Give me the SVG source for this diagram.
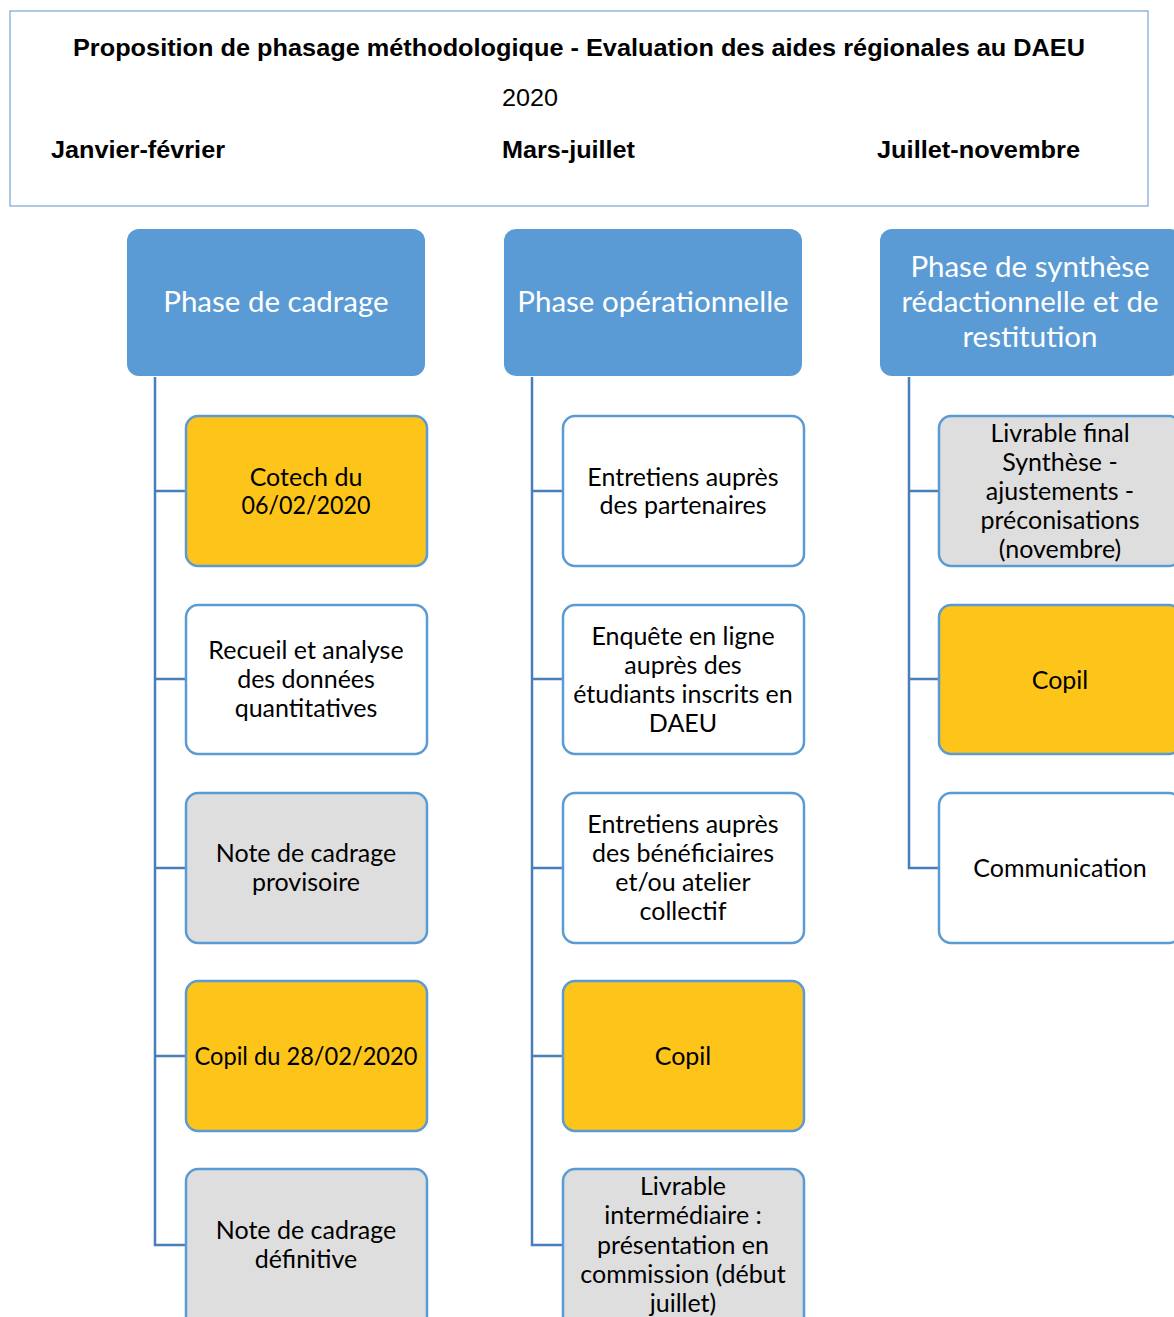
<svg xmlns="http://www.w3.org/2000/svg" width="1174" height="1317" viewBox="0 0 1174 1317">
<style>
.hdr{font-family:"Liberation Sans",Arial,sans-serif;fill:#000}
.b{font-weight:bold;font-size:24px}
.ph{fill:#5b9bd5}
.pht{font-family:Lato,"Open Sans",sans-serif;font-size:29.5px;fill:#fff;text-anchor:middle}
.n{stroke:#5b9bd5;stroke-width:2.5}
.y{fill:#fdc51a}
.g{fill:#dedede}
.w{fill:#fff}
.t{font-family:Lato,"Open Sans",sans-serif;font-size:25px;fill:#000;text-anchor:middle}
.c{fill:none;stroke:#4a7ebb;stroke-width:2.5}
</style>
<rect width="1174" height="1317" fill="#fff"/>
<g id="header">
<rect x="10" y="11" width="1138" height="195" fill="#fff" stroke="#7aa3d3" stroke-width="1.2"/>
<text class="hdr b" x="73" y="56" textLength="1012" lengthAdjust="spacingAndGlyphs">Proposition de phasage méthodologique - Evaluation des aides régionales au DAEU</text>
<text class="hdr" x="502" y="106" font-size="24" textLength="56" lengthAdjust="spacingAndGlyphs">2020</text>
<text class="hdr b" x="51" y="158" textLength="174" lengthAdjust="spacingAndGlyphs">Janvier-février</text>
<text class="hdr b" x="502" y="158" textLength="133" lengthAdjust="spacingAndGlyphs">Mars-juillet</text>
<text class="hdr b" x="877" y="158" textLength="203" lengthAdjust="spacingAndGlyphs">Juillet-novembre</text>
</g>
<g id="connectors">
<path class="c" d="M155,377V1245H186M155,491H186M155,679H186M155,868H186M155,1056H186"/>
<path class="c" d="M532,377V1245H563M532,491H563M532,679H563M532,868H563M532,1056H563"/>
<path class="c" d="M909,377V868H940M909,491H940M909,679H940"/>
</g>
<g id="phase1">
<rect class="ph" x="127" y="229" width="298" height="147" rx="12"/>
<text class="pht" x="276" y="312">Phase de cadrage</text>
</g>
<g id="phase2">
<rect class="ph" x="504" y="229" width="298" height="147" rx="12"/>
<text class="pht" x="653" y="312">Phase opérationnelle</text>
</g>
<g id="phase3">
<rect class="ph" x="880" y="229" width="302" height="147" rx="12"/>
<text class="pht" x="1030" y="277">Phase de synthèse</text>
<text class="pht" x="1030" y="312">rédactionnelle et de</text>
<text class="pht" x="1030" y="347">restitution</text>
</g>
<g id="c1n1"><rect class="n y" x="186" y="416" width="241" height="150" rx="12"/>
<text class="t" x="306" y="486">Cotech du</text><text class="t" x="306" y="514" textLength="129" lengthAdjust="spacingAndGlyphs">06/02/2020</text></g>
<g id="c1n2"><rect class="n w" x="186" y="605" width="241" height="149" rx="12"/>
<text class="t" x="306" y="659">Recueil et analyse</text><text class="t" x="306" y="688">des données</text><text class="t" x="306" y="717">quantitatives</text></g>
<g id="c1n3"><rect class="n g" x="186" y="793" width="241" height="150" rx="12"/>
<text class="t" x="306" y="862">Note de cadrage</text><text class="t" x="306" y="891">provisoire</text></g>
<g id="c1n4"><rect class="n y" x="186" y="981" width="241" height="150" rx="12"/>
<text class="t" x="306" y="1065" textLength="223" lengthAdjust="spacingAndGlyphs">Copil du 28/02/2020</text></g>
<g id="c1n5"><rect class="n g" x="186" y="1169" width="241" height="160" rx="12"/>
<text class="t" x="306" y="1239">Note de cadrage</text><text class="t" x="306" y="1268">définitive</text></g>
<g id="c2n1"><rect class="n w" x="563" y="416" width="241" height="150" rx="12"/>
<text class="t" x="683" y="486">Entretiens auprès</text><text class="t" x="683" y="514">des partenaires</text></g>
<g id="c2n2"><rect class="n w" x="563" y="605" width="241" height="149" rx="12"/>
<text class="t" x="683" y="645">Enquête en ligne</text><text class="t" x="683" y="674">auprès des</text><text class="t" x="683" y="703">étudiants inscrits en</text><text class="t" x="683" y="732">DAEU</text></g>
<g id="c2n3"><rect class="n w" x="563" y="793" width="241" height="150" rx="12"/>
<text class="t" x="683" y="833">Entretiens auprès</text><text class="t" x="683" y="862">des bénéficiaires</text><text class="t" x="683" y="891">et/ou atelier</text><text class="t" x="683" y="920">collectif</text></g>
<g id="c2n4"><rect class="n y" x="563" y="981" width="241" height="150" rx="12"/>
<text class="t" x="683" y="1065">Copil</text></g>
<g id="c2n5"><rect class="n g" x="563" y="1169" width="241" height="160" rx="12"/>
<text class="t" x="683" y="1195">Livrable</text><text class="t" x="683" y="1224">intermédiaire :</text><text class="t" x="683" y="1254">présentation en</text><text class="t" x="683" y="1283">commission (début</text><text class="t" x="683" y="1312">juillet)</text></g>
<g id="c3n1"><rect class="n g" x="939" y="416" width="242" height="150" rx="12"/>
<text class="t" x="1060" y="442">Livrable final</text><text class="t" x="1060" y="471">Synthèse -</text><text class="t" x="1060" y="500">ajustements -</text><text class="t" x="1060" y="529">préconisations</text><text class="t" x="1060" y="558">(novembre)</text></g>
<g id="c3n2"><rect class="n y" x="939" y="605" width="242" height="149" rx="12"/>
<text class="t" x="1060" y="689">Copil</text></g>
<g id="c3n3"><rect class="n w" x="939" y="793" width="242" height="150" rx="12"/>
<text class="t" x="1060" y="877">Communication</text></g>
</svg>
